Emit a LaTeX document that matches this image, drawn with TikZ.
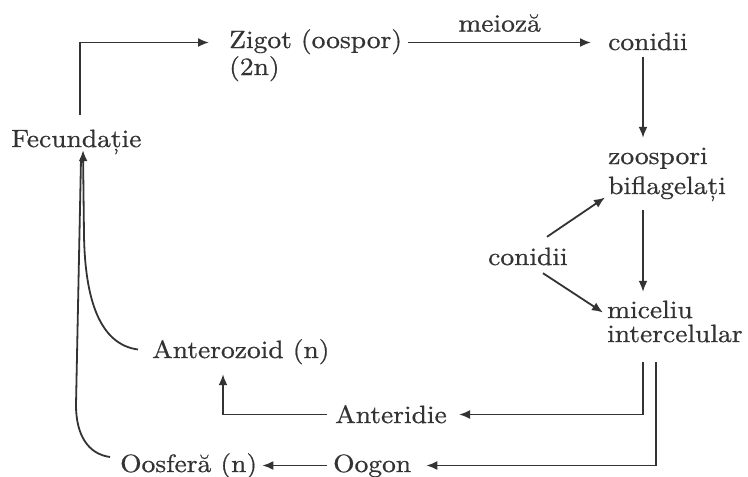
\documentclass[tikz,border=0pt]{standalone}
\usepackage{fontspec}
\setmainfont{lmroman10-regular}[Extension=.otf, FakeStretch=1.1, FakeBold=0.7]
\usetikzlibrary{arrows.meta}
\definecolor{ink}{HTML}{333333}

\begin{document}
\begin{tikzpicture}[x=1pt,y=-1pt,
  txt/.style={inner sep=0pt, text height=17pt, text depth=6pt, text=ink,
              font=\fontsize{25}{29}\selectfont},
  lbl/.style={txt, anchor=base west},
  arr/.style={draw=ink, line width=1.8pt, -{Latex[length=11pt,width=9pt]}},
  ln/.style={draw=ink, line width=1.8pt}]
\useasboundingbox[fill=white] (0,0) rectangle (748,477);

% stages of the life cycle
\node[lbl] (fec)  at (11,147)  {Fecundație};
\node[lbl] (zig)  at (229,48)  {Zigot (oospor)};
\node[lbl] (zign) at (229,75)  {(2n)};
\node[lbl] (conA) at (608,50)  {conidii};
\node[lbl] (zoo)  at (608,164) {zoospori};
\node[lbl] (bif)  at (608,194) {biflagelați};
\node[lbl] (conB) at (488,265) {conidii};
\node[lbl] (mic)  at (607,318) {miceliu};
\node[lbl] (int)  at (607,342) {intercelular};
\node[lbl] (ant)  at (335,423) {Anteridie};
\node[lbl] (anz)  at (152,358) {Anterozoid (n)};
\node[lbl] (oog)  at (333,472) {Oogon};
\node[lbl] (oos)  at (120,472) {Oosferă (n)};

% bends of the two curved branches
\coordinate (bendA) at (84,235);
\coordinate (bendO) at (76,405);

% fecundation gives the zygote
\draw[arr] ([xshift=69pt,yshift=15pt]fec.north west) |- ([xshift=-20pt]zig.west);
% meiosis
\draw[arr] ([xshift=6pt]zig.east) -- ([xshift=-17pt]zig.east -| conA.west)
  node[txt, midway, above=4pt] {meioză};
% asexual part
\draw[arr] ([xshift=35pt,yshift=-1pt]conA.south west) -- ([xshift=35pt,yshift=9pt]zoo.north west);
\draw[arr] ([xshift=35pt,yshift=-10pt]bif.south west) -- ([xshift=36pt,yshift=9pt]mic.north west);
\draw[arr] ([xshift=59pt,yshift=11pt]conB.north west) -- ([xshift=-3pt,yshift=-9pt]bif.west);
\draw[arr] ([xshift=55pt,yshift=-2pt]conB.south west) -- ([xshift=-4pt]mic.west);
% sexual organs
\draw[arr] ([xshift=36pt,yshift=-14pt]int.south west) |- ([xshift=12pt,yshift=3pt]ant.east);
\draw[arr] ([xshift=49pt,yshift=-14pt]int.south west) |- ([xshift=15pt,yshift=1pt]oog.east);
\draw[arr] ([xshift=-8pt,yshift=3pt]ant.west) -| ([xshift=71pt,yshift=-10pt]anz.south west);
\draw[arr] ([xshift=-6pt,yshift=1pt]oog.west) -- ([xshift=5pt,yshift=1pt]oog.west -| oos.east);
% gametes meet
\draw[ln] ([xshift=-10pt,yshift=9.5pt]oos.west) .. controls +(-22,-3) and +(0,30) .. (bendO)
  -- ([xshift=70pt,yshift=-6pt]fec.south west);
\draw[arr] ([xshift=-14pt,yshift=3pt]anz.west) .. controls +(-38,-5) and +(1,65) .. (bendA)
  -- ([xshift=72pt,yshift=3pt]fec.south west);
\end{tikzpicture}
\end{document}
